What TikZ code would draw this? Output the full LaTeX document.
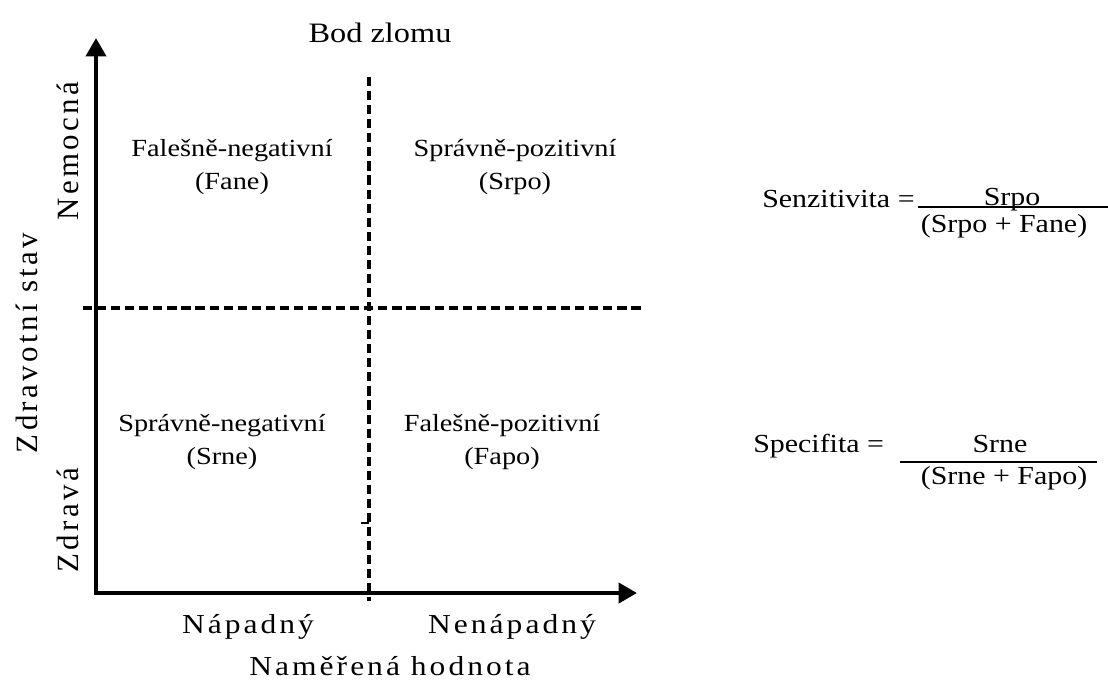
\documentclass[tikz,border=0pt]{standalone}
\usepackage{fontspec}
\setmainfont{Liberation Serif}[FakeStretch=1.15]
\newfontfamily\axisfont{Liberation Serif}[FakeStretch=1.15,LetterSpace=11]
\newfontfamily\sidefont{Liberation Serif}[LetterSpace=11]
\usetikzlibrary{arrows.meta,positioning}

\begin{document}
\begin{tikzpicture}[x=0.025cm,y=-0.025cm,>={Triangle[length=13pt,width=14pt]},
    axis/.style={line width=3.2pt,<->},
    cut/.style={line width=2.4pt,dash pattern=on 6.5pt off 3.5pt},
    quad/.style={font=\fontsize{17.5}{20}\selectfont,inner sep=0pt,text height=12pt,text depth=4pt},
    lab/.style={font=\axisfont\fontsize{19.5}{22}\selectfont,inner sep=0pt,anchor=base},
    side/.style={font=\sidefont\fontsize{22}{24}\selectfont,inner sep=0pt,anchor=base,rotate=90},
    frm/.style={font=\fontsize{18.5}{22}\selectfont,inner sep=0pt,anchor=base},
    node distance=0.83cm]

  \useasboundingbox (0,0) rectangle (1108,680);

  \coordinate (O) at (96,593);
  \coordinate (ytip) at (96,38);
  \coordinate (xtip) at (637,593);
  \coordinate (vtop) at (369,77);
  \coordinate (vbot) at (369,601);
  \coordinate (hl) at (83,308);
  \coordinate (hr) at (643,308);
  \coordinate (tka) at (361,523);
  \coordinate (tkb) at (369,523);

  \draw[cut] (hl) -- (hr);
  \draw[cut] (vtop) -- (vbot);
  \draw[line width=1.4pt] (tka) -- (tkb);
  \draw[axis] (ytip) -- (O) -- (xtip);

  \node[font=\fontsize{20}{24}\selectfont,inner sep=0pt,anchor=base] (bod) at (380,42) {Bod zlomu};

  \node[quad] (fn) at (232,151) {Falešně-negativní};
  \node[quad] (fane) [below of=fn] {(Fane)};
  \node[quad] (sp) at (515,151) {Správně-pozitivní};
  \node[quad] (srpo) [below of=sp] {(Srpo)};
  \node[quad] (sn) at (222,426) {Správně-negativní};
  \node[quad] (srne) [below of=sn] {(Srne)};
  \node[quad] (fp) at (502,426) {Falešně-pozitivní};
  \node[quad] (fapo) [below of=fp] {(Fapo)};

  \node[lab] (nap) at (248,633) {Nápadný};
  \node[lab] (nenap) at (512,633) {Nenápadný};
  \node[lab] (hodn) at (390,675) {Naměřená hodnota};

  \node[side] (nem) at (78,151) {Nemocná};
  \node[side] (stav) at (37,343) {Zdravotní stav};
  \node[side] (zdr) at (78,520) {Zdravá};

  \node[frm,anchor=base west] (sen) at (762,207) {Senzitivita =};
  \coordinate (sfl) at (918,207);
  \coordinate (sfr) at (1108,207);
  \draw[line width=1pt] (sfl) -- (sfr);
  \node[frm] (snum) at (1012,205) {Srpo};
  \node[frm] (sden) at (1004,232) {(Srpo + Fane)};

  \node[frm,anchor=base west] (spe) at (753,452) {Specifita =};
  \coordinate (pfl) at (900,462);
  \coordinate (pfr) at (1097,462);
  \draw[line width=1pt] (pfl) -- (pfr);
  \node[frm] (pnum) at (1000,452) {Srne};
  \node[frm] (pden) at (1004,484) {(Srne + Fapo)};

\end{tikzpicture}
\end{document}
